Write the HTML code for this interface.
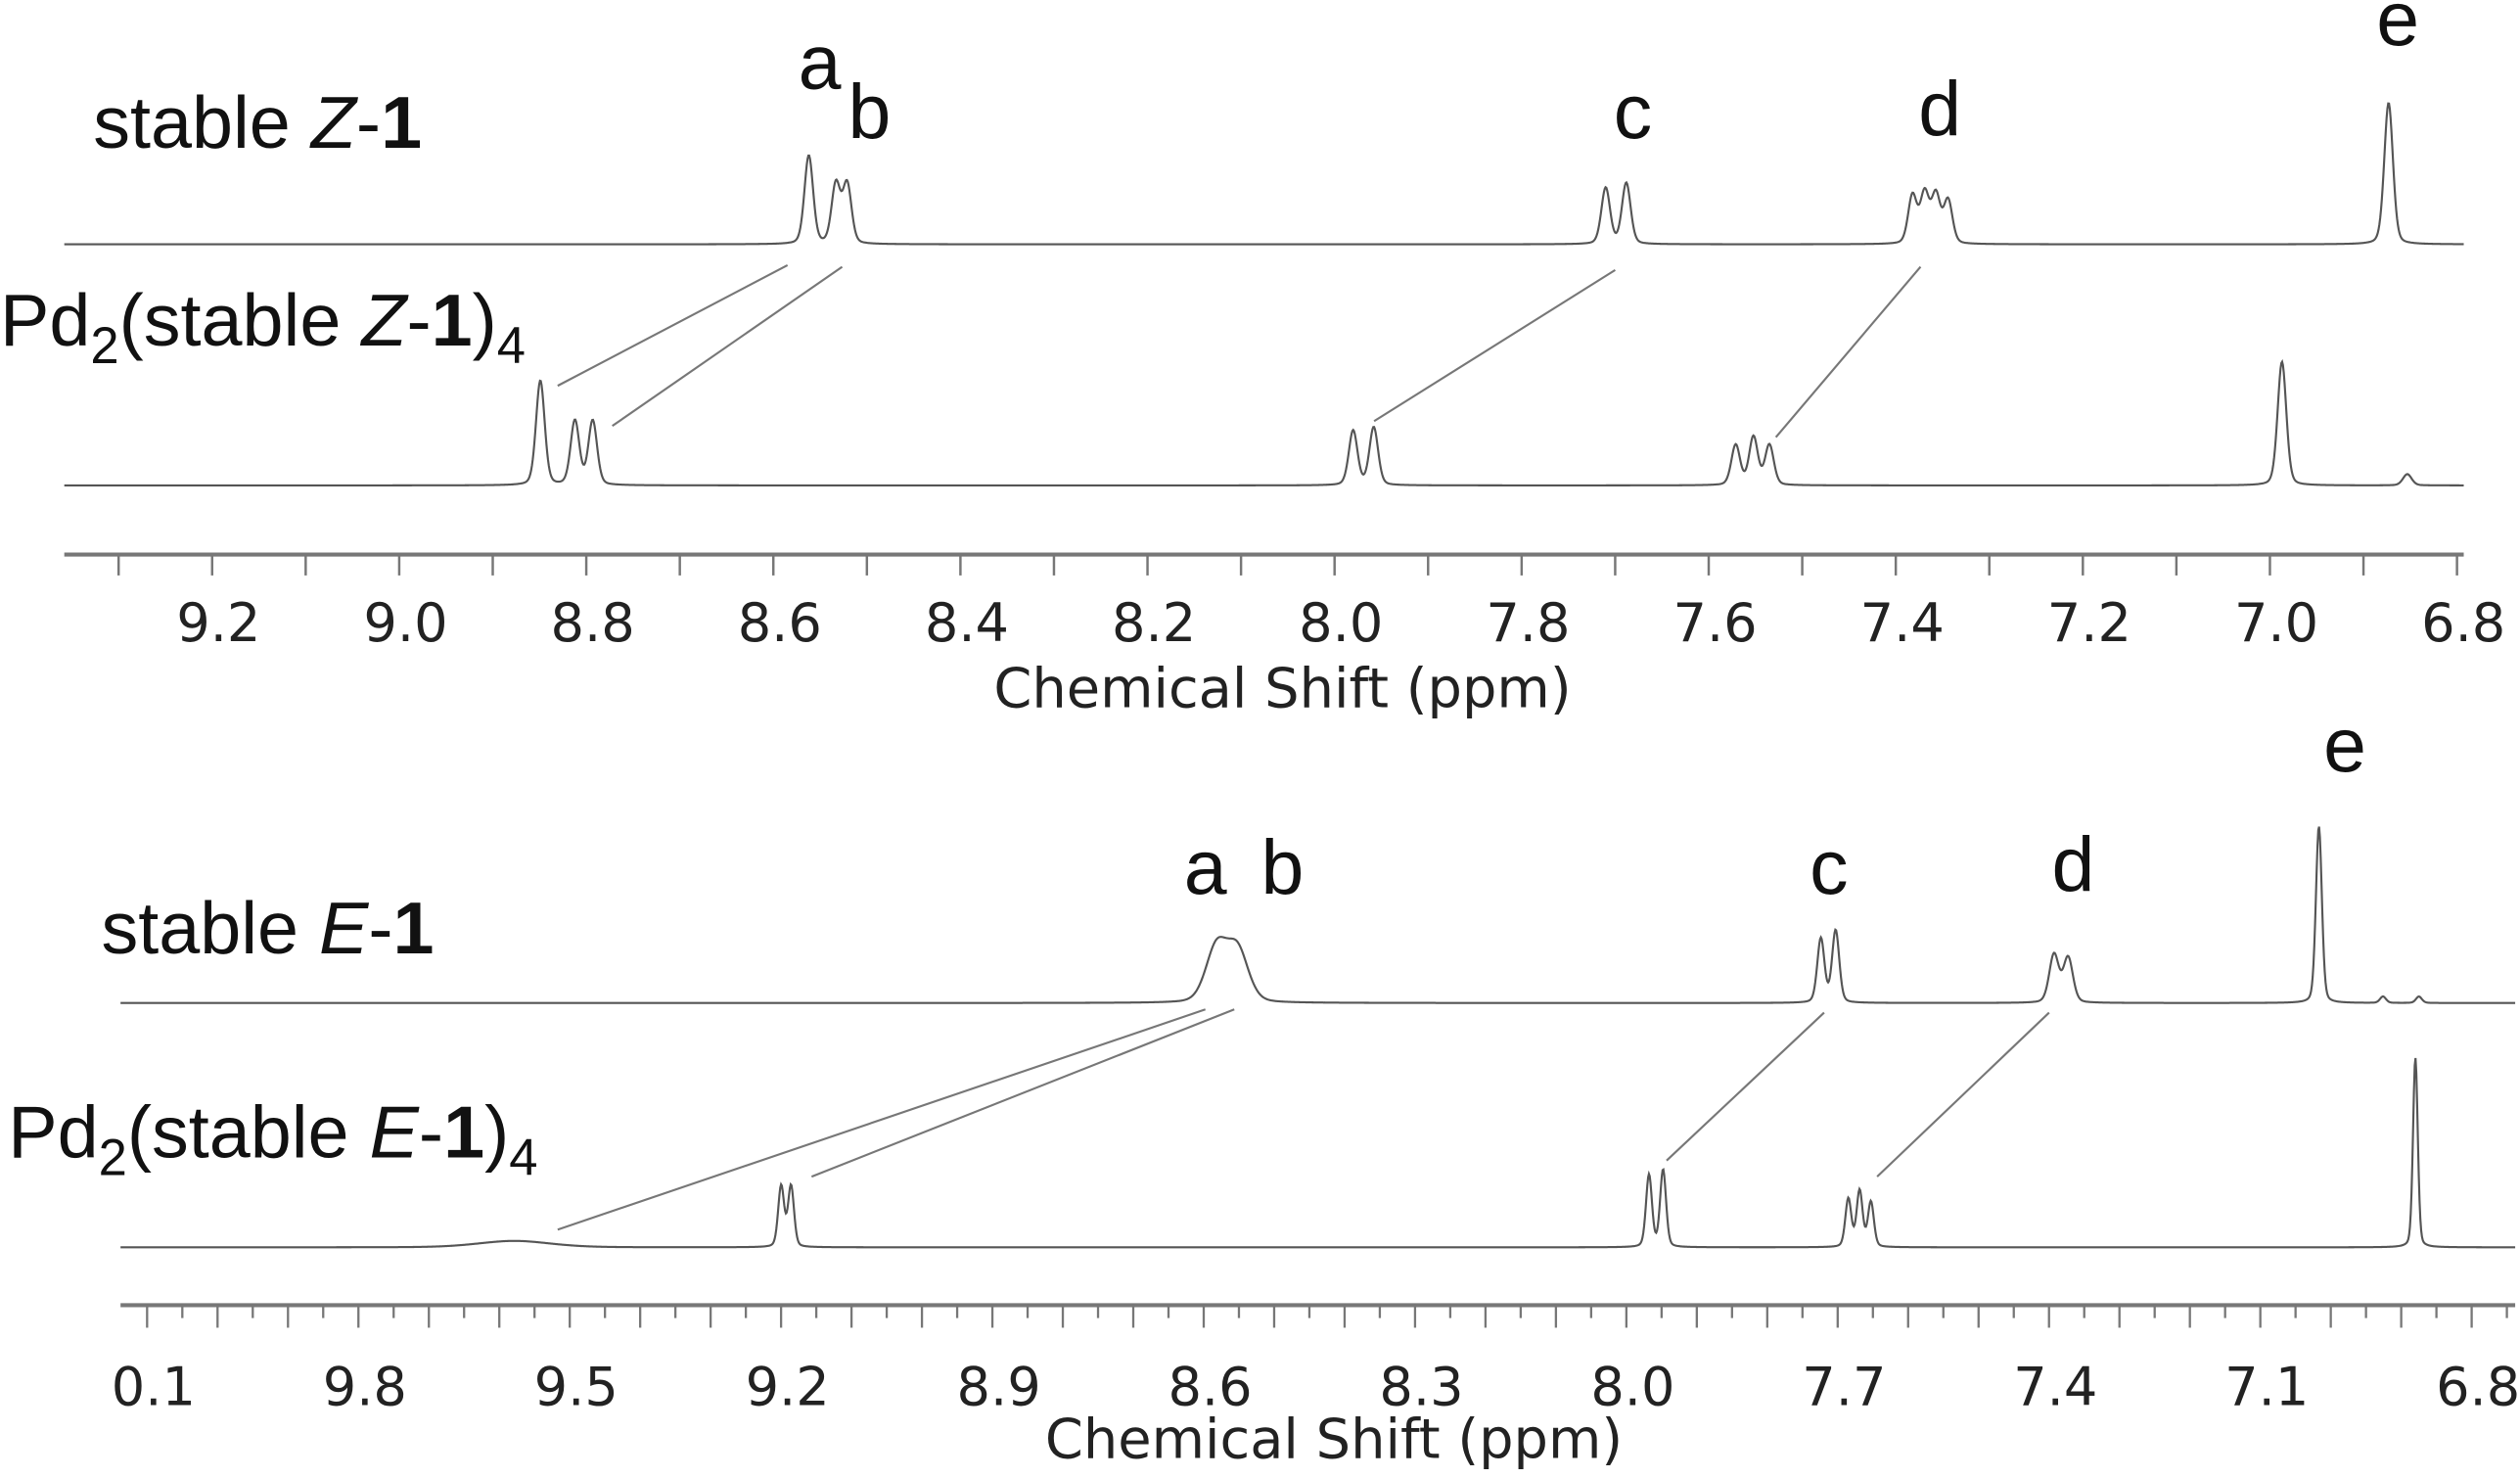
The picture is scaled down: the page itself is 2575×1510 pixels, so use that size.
<!DOCTYPE html>
<html><head><meta charset="utf-8"><style>
html,body{margin:0;padding:0;background:#fff;}
svg{display:block;}
.lbl{font-family:"Liberation Sans",Arial,sans-serif;fill:#111;}
.tick{font-family:"DejaVu Sans","Liberation Sans",sans-serif;fill:#222;}
</style></head><body>
<svg id="chart" width="2575" height="1510" viewBox="0 0 1568 919.5" preserveAspectRatio="none" xmlns="http://www.w3.org/2000/svg">
<g id="p1"></g>
<g id="p2"></g>
</svg>
<script>
// ---- Panel 1 data (ppm) ----
const zTicks = [9.3,9.2,9.1,9.0,8.9,8.8,8.7,8.6,8.5,8.4,8.3,8.2,8.1,8.0,7.9,7.8,7.7,7.6,7.5,7.4,7.3,7.2,7.1,7.0,6.9,6.8];
const zTickLabels = ["9.2","9.0","8.8","8.6","8.4","8.2","8.0","7.8","7.6","7.4","7.2","7.0","6.8"];
const zTickLabelVals = [9.2,9.0,8.8,8.6,8.4,8.2,8.0,7.8,7.6,7.4,7.2,7.0,6.8];
const z1Pos = [8.569,8.540,8.528,7.717,7.695,7.389,7.376,7.364,7.351,6.880];
const z1Amp = [55,37,37,35,38,30,31,30,27,88];
const pdzPos = [8.856,8.819,8.800,7.987,7.965,7.578,7.559,7.542,6.994,6.860];
const pdzAmp = [65,40,40,34,36,25,30,25,77,7];
// ---- Panel 2 data (ppm) ----
const eTickLabels = ["0.1","9.8","9.5","9.2","8.9","8.6","8.3","8.0","7.7","7.4","7.1","6.8"];
const eTickLabelVals = [10.1,9.8,9.5,9.2,8.9,8.6,8.3,8.0,7.7,7.4,7.1,6.8];
const e1Pos = [8.591,8.561,7.733,7.712,7.402,7.382,7.026,6.935,6.884];
const e1Amp = [34,32,40,45,30,28,110,4,4];
const e1Wid = [0.018,0.018,0.006,0.006,0.008,0.008,0.005,0.005,0.005];
const pdePos = [9.588,9.209,9.195,7.977,7.957,7.694,7.678,7.662,6.889];
const pdeAmp = [4,38,38,45,48,30,35,28,118];
const pdeWid = [0.06,0.005,0.005,0.005,0.005,0.005,0.005,0.005,0.004];

const NS='http://www.w3.org/2000/svg';
function mk(tag,attrs,parent){const e=document.createElementNS(NS,tag);for(const k in attrs)e.setAttribute(k,attrs[k]);parent.appendChild(e);return e;}
function txt(parent,x,y,s,cls,size,anchor){const t=mk('text',{x:x,y:y,'class':cls,'font-size':size,'text-anchor':anchor||'middle'},parent);t.textContent=s;return t;}
function lor(p,pos,amp,wid){let s=0;for(let i=0;i<pos.length;i++){const w=wid[i];const d=(p-pos[i])/w;s+=amp[i]*(0.25/(1+d*d)+0.75*Math.exp(-0.693*d*d));}return s;}
function spectrum(parent,xs,x0,x1,base,pos,amp,wid,name){
  let d='';
  for(let x=x0;x<=x1;x+=0.5){const p=xs.inv(x);const y=base-lor(p,pos,amp,wid);d+=(d?'L':'M')+x.toFixed(1)+','+y.toFixed(2);}
  const el=mk('path',{d:d,fill:'none',stroke:'#555','stroke-width':1.3},parent);
  
  
}
function conn(parent,x1,y1,x2,y2){const l=mk('line',{x1:x1,y1:y1,x2:x2,y2:y2,stroke:'#777','stroke-width':1.3},parent);
  
  }
function fill(a,v){return a.map(()=>v);}

// ---- Panel 1 ----
const g1=document.getElementById('p1');
const xs1={f:p=>136+(9.2-p)*582, inv:x=>9.2-(x-136)/582};
const l1=txt(g1,58,92,'','lbl',46,'start');
l1.innerHTML='stable <tspan font-style="italic">Z</tspan>-<tspan font-weight="bold">1</tspan>';


const l2=txt(g1,0,215,'','lbl',46,'start');
l2.innerHTML='Pd<tspan font-size="32" dy="11">2</tspan><tspan dy="-11">(stable </tspan><tspan font-style="italic">Z</tspan>-<tspan font-weight="bold">1</tspan>)<tspan font-size="32" dy="11">4</tspan>';


spectrum(g1,xs1,40,1533,152,z1Pos,z1Amp,fill(z1Pos,0.0055),'spectrum-stable-z1');
spectrum(g1,xs1,40,1533,302,pdzPos,pdzAmp,fill(pdzPos,0.0055),'spectrum-pd2-z1');
[['a',510,55],['b',541,86],['c',1016,86],['d',1207,84],['e',1492,28]].forEach(a=>{
  const t=txt(g1,a[1],a[2],a[0],'lbl',48);
  
  
});
conn(g1,347,240,490,165);conn(g1,381,265,524,166);conn(g1,855,262,1005,168);conn(g1,1105,272,1195,166);
const ax1=mk('line',{x1:40,y1:345,x2:1533,y2:345,stroke:'#777','stroke-width':2.5},g1);


zTicks.forEach(v=>{const x=xs1.f(v)-4;if(x<40||x>1534)return;const t=mk('line',{x1:x,y1:345,x2:x,y2:358,stroke:'#777','stroke-width':1.5},g1);
  
  });
zTickLabels.forEach((s,i)=>{const t=txt(g1,xs1.f(zTickLabelVals[i]),399,s,'tick',33);
  
  });
const xt1=txt(g1,798,440,'Chemical Shift (ppm)','tick',34);



// ---- Panel 2 ----
const g2=document.getElementById('p2');
const xs2={f:p=>490+(9.2-p)*438.3, inv:x=>9.2-(x-490)/438.3};
const l3=txt(g2,63,593,'','lbl',46,'start');
l3.innerHTML='stable <tspan font-style="italic">E</tspan>-<tspan font-weight="bold">1</tspan>';


const l4=txt(g2,5,720,'','lbl',46,'start');
l4.innerHTML='Pd<tspan font-size="32" dy="11">2</tspan><tspan dy="-11">(stable </tspan><tspan font-style="italic">E</tspan>-<tspan font-weight="bold">1</tspan>)<tspan font-size="32" dy="11">4</tspan>';


spectrum(g2,xs2,75,1565,624,e1Pos,e1Amp,e1Wid,'spectrum-stable-e1');
spectrum(g2,xs2,75,1565,776,pdePos,pdeAmp,pdeWid,'spectrum-pd2-e1');
[['a',750,556],['b',798,556],['c',1138,556],['d',1290,554],['e',1459,480]].forEach(a=>{
  const t=txt(g2,a[1],a[2],a[0],'lbl',48);
  
  
});
conn(g2,347,765,750,628);conn(g2,505,732,768,628);conn(g2,1037,722,1135,630);conn(g2,1168,732,1275,630);
const ax2=mk('line',{x1:75,y1:812,x2:1565,y2:812,stroke:'#777','stroke-width':2.5},g2);


for(let k=0;k<=70;k++){const v=10.15-k*0.05;const x=xs2.f(v)-4;if(x<75||x>1566)continue;
  const major=Math.abs(Math.round(v*10)-v*10)<0.01;
  const t=mk('line',{x1:x,y1:812,x2:x,y2:major?826:820,stroke:'#777','stroke-width':1.4},g2);
  
  }
eTickLabels.forEach((s,i)=>{const t=txt(g2,xs2.f(eTickLabelVals[i]),874,s,'tick',33);
  
  });
const xt2=txt(g2,830,907,'Chemical Shift (ppm)','tick',34);


</script>
</body></html>
